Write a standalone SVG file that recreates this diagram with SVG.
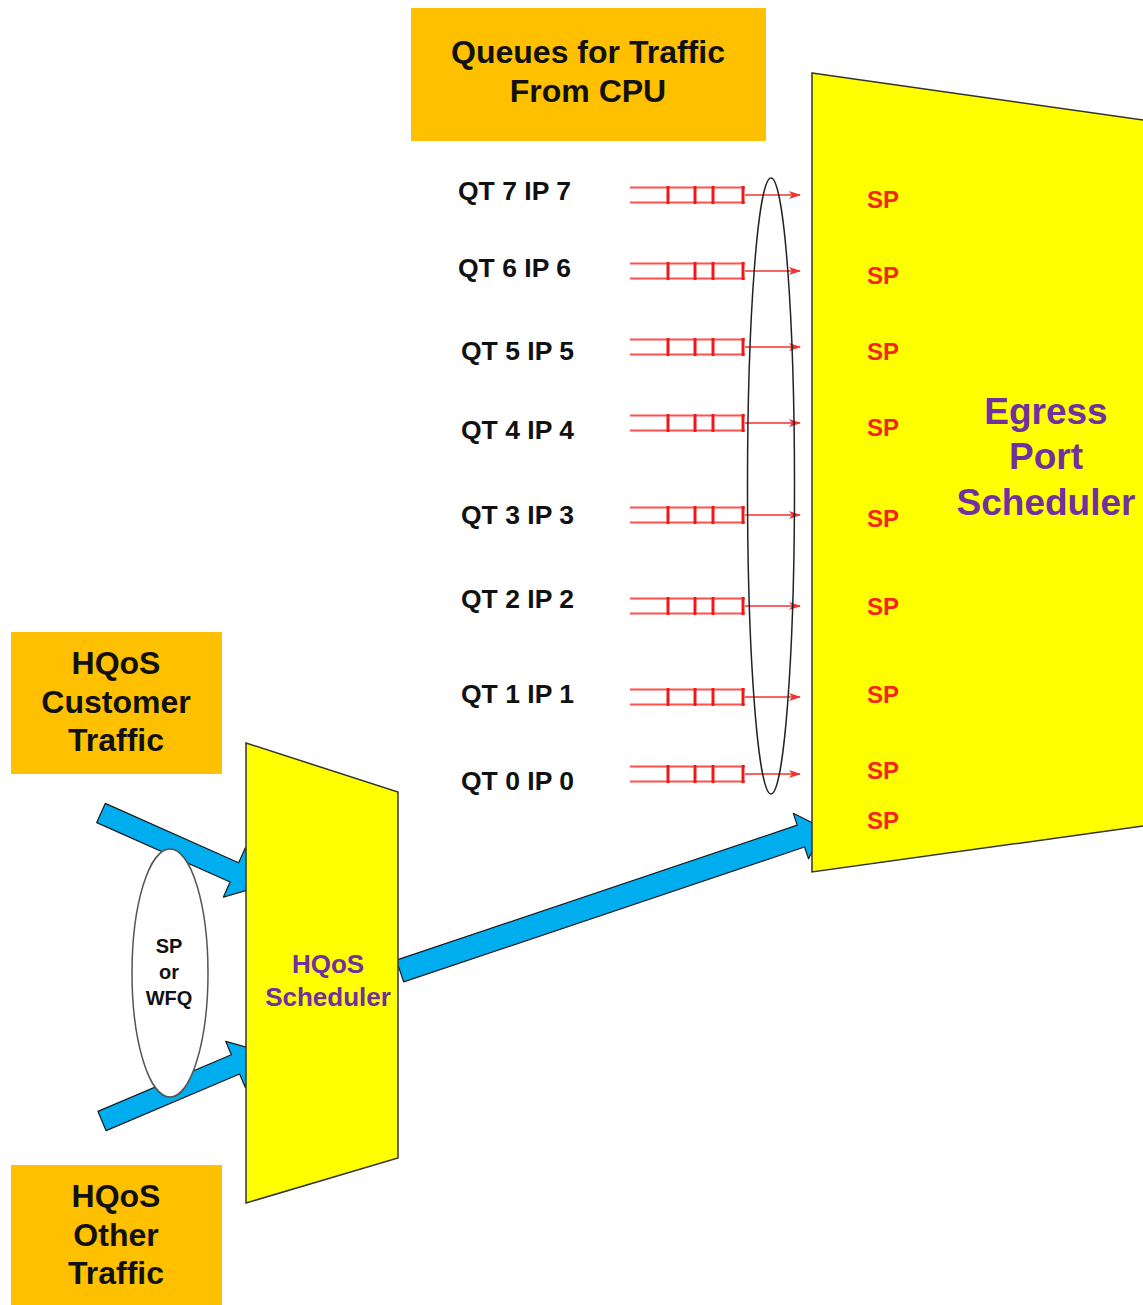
<svg xmlns="http://www.w3.org/2000/svg" width="1143" height="1305" viewBox="0 0 1143 1305">
<defs>
<style>
.orange{fill:#FFC000;}
.yellow{fill:#FFFF00;stroke:#333;stroke-width:1.5;}
.blk{font-family:"Liberation Sans",Arial,sans-serif;font-weight:bold;fill:#111;}
.purple{font-family:"Liberation Sans",Arial,sans-serif;font-weight:bold;fill:#7030A0;}
.sp{font-family:"Liberation Sans",Arial,sans-serif;font-weight:bold;fill:#F4261C;font-size:24px;}
.ql{font-size:26.5px;}
.qline{stroke:#FF5050;stroke-width:1.8;fill:none;}
.qtick{stroke:#F01818;stroke-width:3;}
.qarrow{stroke:#F43030;stroke-width:1.3;fill:none;}
.blue{fill:#00AEEF;stroke:#1a1a1a;stroke-width:1.2;stroke-linejoin:round;}
</style>
<marker id="ah" viewBox="0 0 12 10" refX="11" refY="5" markerWidth="12" markerHeight="10" markerUnits="userSpaceOnUse" orient="auto">
<path d="M0,1 L12,5 L0,9 L3,5 Z" fill="#F43030"/>
</marker>
<g id="queue">
<line class="qline" x1="630" y1="-7.5" x2="745" y2="-7.5"/>
<line class="qline" x1="630" y1="7.5" x2="745" y2="7.5"/>
<line class="qtick" x1="668" y1="-9" x2="668" y2="9"/>
<line class="qtick" x1="695" y1="-9" x2="695" y2="9"/>
<line class="qtick" x1="713" y1="-9" x2="713" y2="9"/>
<line class="qtick" x1="743" y1="-9" x2="743" y2="9"/>
<line class="qarrow" x1="745" y1="0" x2="800" y2="0" marker-end="url(#ah)"/>
</g>
</defs>

<g id="connectors">
<polygon class="blue" transform="translate(101,813) rotate(24)" points="0,-10.5 146,-10.5 146,-27 178,0 146,27 146,10.5 0,10.5"/>
<polygon class="blue" transform="translate(102,1121) rotate(-23)" points="0,-10.5 145,-10.5 145,-25 176,0 145,25 145,10.5 0,10.5"/>
<polygon class="blue" transform="translate(400,971) rotate(-18.6)" points="0,-11.5 423,-11.5 423,-24 447,0 423,24 423,11.5 0,11.5"/>
</g>

<g id="sp-wfq">
<ellipse cx="170" cy="973" rx="38" ry="124" fill="#fff" stroke="#555" stroke-width="1.5"/>
<text class="blk" font-size="20" text-anchor="middle" x="169" y="953">SP</text>
<text class="blk" font-size="20" text-anchor="middle" x="169" y="979">or</text>
<text class="blk" font-size="20" text-anchor="middle" x="169" y="1005">WFQ</text>
</g>

<g id="hqos-scheduler">
<polygon class="yellow" points="246,743 398,792 398,1158 246,1203"/>
<text class="purple" font-size="26" text-anchor="middle" x="328" y="973">HQoS</text>
<text class="purple" font-size="26" text-anchor="middle" x="328" y="1006">Scheduler</text>
</g>

<g id="egress-port-scheduler">
<polygon class="yellow" points="812,73 1150,121 1150,825 812,872"/>
<text class="purple" font-size="37" text-anchor="middle" x="1046" y="424">Egress</text>
<text class="purple" font-size="37" text-anchor="middle" x="1046" y="469">Port</text>
<text class="purple" font-size="37" text-anchor="middle" x="1046" y="515">Scheduler</text>
<text class="sp" x="867" y="208">SP</text>
<text class="sp" x="867" y="284">SP</text>
<text class="sp" x="867" y="360">SP</text>
<text class="sp" x="867" y="436">SP</text>
<text class="sp" x="867" y="527">SP</text>
<text class="sp" x="867" y="615">SP</text>
<text class="sp" x="867" y="703">SP</text>
<text class="sp" x="867" y="779">SP</text>
<text class="sp" x="867" y="829">SP</text>
</g>

<g id="queues-cpu">
<rect class="orange" x="411" y="8" width="355" height="133"/>
<text class="blk" font-size="32" text-anchor="middle" x="588" y="63">Queues for Traffic</text>
<text class="blk" font-size="32" text-anchor="middle" x="588" y="102">From CPU</text>
</g>

<g id="hqos-customer">
<rect class="orange" x="11" y="632" width="211" height="142"/>
<text class="blk" font-size="32" text-anchor="middle" x="116" y="674">HQoS</text>
<text class="blk" font-size="32" text-anchor="middle" x="116" y="713">Customer</text>
<text class="blk" font-size="32" text-anchor="middle" x="116" y="751">Traffic</text>
</g>

<g id="hqos-other">
<rect class="orange" x="11" y="1165" width="211" height="142"/>
<text class="blk" font-size="32" text-anchor="middle" x="116" y="1207">HQoS</text>
<text class="blk" font-size="32" text-anchor="middle" x="116" y="1246">Other</text>
<text class="blk" font-size="32" text-anchor="middle" x="116" y="1284">Traffic</text>
</g>

<g id="queues">
<g id="q7"><use href="#queue" y="195"/><text class="blk ql" x="458" y="200">QT 7 IP 7</text></g>
<g id="q6"><use href="#queue" y="271"/><text class="blk ql" x="458" y="277">QT 6 IP 6</text></g>
<g id="q5"><use href="#queue" y="347"/><text class="blk ql" x="461" y="360">QT 5 IP 5</text></g>
<g id="q4"><use href="#queue" y="423"/><text class="blk ql" x="461" y="439">QT 4 IP 4</text></g>
<g id="q3"><use href="#queue" y="515"/><text class="blk ql" x="461" y="524">QT 3 IP 3</text></g>
<g id="q2"><use href="#queue" y="606"/><text class="blk ql" x="461" y="608">QT 2 IP 2</text></g>
<g id="q1"><use href="#queue" y="697"/><text class="blk ql" x="461" y="703">QT 1 IP 1</text></g>
<g id="q0"><use href="#queue" y="774"/><text class="blk ql" x="461" y="790">QT 0 IP 0</text></g>
</g>

<g id="queue-group">
<ellipse cx="771" cy="486" rx="23.5" ry="308" fill="none" stroke="#222" stroke-width="1.5"/>
</g>
</svg>
